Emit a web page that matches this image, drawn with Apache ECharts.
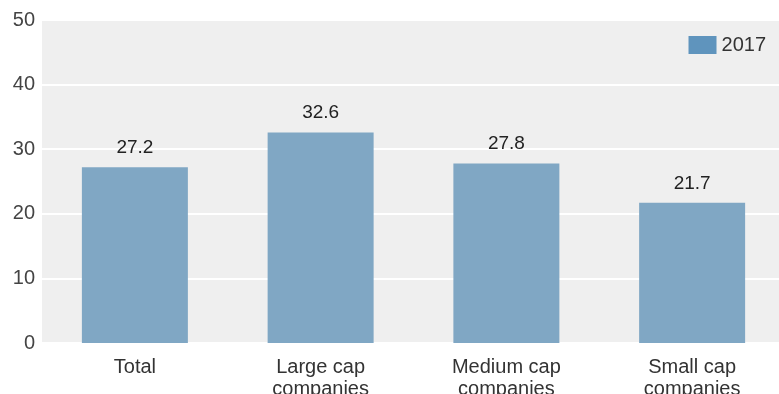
<!DOCTYPE html>
<html><head><meta charset="utf-8">
<script src="https://cdn.jsdelivr.net/npm/echarts@6/dist/echarts.min.js"></script>
<style>html,body{margin:0;padding:0;background:#fff;overflow:hidden}#c{width:779px;height:394px}</style>
</head><body><div id="c"></div>
<script>
var categories = ["Total", "Large cap\ncompanies", "Medium cap\ncompanies", "Small cap\ncompanies"];
var values2017 = [27.2, 32.6, 27.8, 21.7];
var seriesName = "2017";
var yTicks = [0, 10, 20, 30, 40, 50];

var chart = echarts.init(document.getElementById('c'));
chart.setOption({
  animation: false,
  textStyle: { fontFamily: 'Liberation Sans, Arial, sans-serif' },
  grid: { left: 42, right: -6, top: 20, bottom: 51, show: true, backgroundColor: '#efefef', borderWidth: 0,
          containLabel: false, outerBoundsMode: 'none' },
  legend: {
    right: 8, top: 30, itemWidth: 28, itemHeight: 18, itemGap: 6,
    textStyle: { fontSize: 20, color: '#333' },
    data: [{ name: seriesName, icon: 'rect', itemStyle: { color: '#5f94bd' } }]
  },
  xAxis: {
    type: 'category', data: categories,
    axisLine: { show: false }, axisTick: { show: false },
    axisLabel: { fontSize: 20, color: '#333', margin: 13, lineHeight: 22, interval: 0 }
  },
  yAxis: {
    type: 'value', min: yTicks[0], max: yTicks[yTicks.length - 1], interval: 10,
    axisLine: { show: false }, axisTick: { show: false },
    axisLabel: { fontSize: 20, color: '#444', margin: 7 },
    splitLine: { lineStyle: { color: '#ffffff', width: 2 } }
  },
  series: [{
    name: seriesName, type: 'bar', data: values2017, barWidth: 106,
    itemStyle: { color: '#80a7c4' },
    label: { show: true, position: 'top', distance: 10, fontSize: 19, color: '#222', formatter: function(p){ return p.value.toFixed(1); } }
  }]
});
</script></body></html>
